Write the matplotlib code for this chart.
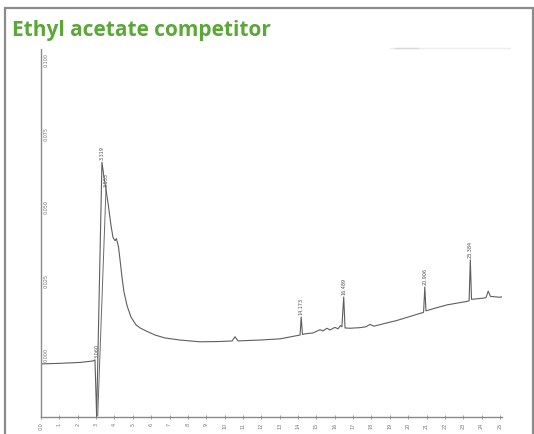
import matplotlib
matplotlib.use("Agg")
import matplotlib.pyplot as plt
import matplotlib.patches as mpatches

# ── chromatogram trace (time in min, signal in AU) ───────────────────────────
trace_t = [0.0, 1.03, 2.12, 2.83, 2.94, 3.03, 3.32, 3.43, 3.54, 3.68, 3.81,
           3.92, 4.03, 4.11, 4.22, 4.30, 4.41, 4.52, 4.69, 4.90, 5.18, 5.40,
           5.72, 6.21, 6.76, 7.57, 8.66, 9.75, 10.41, 10.57, 10.73, 11.93,
           13.02, 14.11, 14.173, 14.24, 14.38, 14.81, 15.20, 15.36, 15.58,
           15.74, 16.01, 16.18, 16.31, 16.39, 16.489, 16.56, 16.83, 17.37,
           17.70, 17.92, 18.14, 18.83, 19.37, 20.26, 20.84, 20.906, 20.97,
           21.35, 22.10, 23.19, 23.32, 23.384, 23.45, 24.09, 24.24, 24.36,
           24.48, 25.0, 25.11]
trace_v = [-0.0034, -0.0032, -0.0029, -0.0024, -0.0020, -0.0213, 0.0650,
           0.0600, 0.0559, 0.0498, 0.0437, 0.0395, 0.0384, 0.0391, 0.0363,
           0.0322, 0.0261, 0.0210, 0.0163, 0.0125, 0.0098, 0.0088, 0.0078,
           0.0064, 0.0054, 0.0047, 0.0041, 0.0042, 0.0044, 0.0058, 0.0044,
           0.0047, 0.0051, 0.0064, 0.0125, 0.0066, 0.0068, 0.0071, 0.0082,
           0.0078, 0.0087, 0.0081, 0.0090, 0.0085, 0.0096, 0.0092, 0.0193,
           0.0088, 0.0087, 0.0089, 0.0092, 0.0100, 0.0094, 0.0105, 0.0113,
           0.0130, 0.0141, 0.0227, 0.0146, 0.0153, 0.0166, 0.0178, 0.0180,
           0.0319, 0.0185, 0.0189, 0.0191, 0.0213, 0.0195, 0.0192, 0.0194]

# second stroke at the injection dip
stroke_t = [3.09, 3.54]
stroke_v = [-0.0210, 0.0559]

# labelled peaks
peak_t = [3.03, 3.32, 3.54, 14.173, 16.489, 20.906, 23.384]
peak_v = [-0.0020, 0.0650, 0.0559, 0.0125, 0.0193, 0.0227, 0.0319]
peak_labels = ["3.060", "3.319", "3.553", "14.173", "16.489", "20.906", "23.384"]

x_ticks = list(range(0, 26))
x_tick_labels = ["0.0"] + [str(i) for i in range(1, 26)]
y_ticks = [0.0, 0.025, 0.050, 0.075, 0.100]
y_tick_labels = ["0.000", "0.025", "0.050", "0.075", "0.100"]

W, H = 534, 435
fig = plt.figure(figsize=(W / 100, H / 100), dpi=100)
fig.patch.set_facecolor("white")

# outer frame
fig.patches.append(mpatches.Rectangle((4.5 / W, -0.05), (533 - 4.5) / W, 1.05 - 9 / H,
                                      transform=fig.transFigure, fill=False,
                                      edgecolor="#8c8c8c", linewidth=1.6))

fig.text(12.5 / W, 1 - 36 / H, "Ethyl acetate competitor", color="#5aa838",
         fontsize=15, fontweight="bold", family=["Open Sans", "DejaVu Sans"],
         va="baseline", ha="left")

# faint scanner line
fig.add_artist(plt.Line2D([390 / W, 510 / W], [1 - 49 / H, 1 - 49 / H],
                          color="#ececec", linewidth=1))
fig.add_artist(plt.Line2D([395 / W, 418 / W], [1 - 49 / H, 1 - 49 / H],
                          color="#d8d8d8", linewidth=1))

left, right = 41 / W, 501.8 / W
bottom, top = 1 - 418 / H, 1 - 50 / H
ax = fig.add_axes([left, bottom, right - left, top - bottom])
ax.set_xlim(0, 25.1)
ax.set_ylim(-0.0214, 0.1034)

ax.plot(trace_t, trace_v, color="#5e5e5e", linewidth=0.8)
ax.plot(stroke_t, stroke_v, color="#6a6a6a", linewidth=0.7)

for t, v, lab in zip(peak_t, peak_v, peak_labels):
    ax.text(t, v + 0.001, lab, rotation=90, ha="center", va="bottom",
            fontsize=3.5, color="#555555")

for s in ["top", "right"]:
    ax.spines[s].set_visible(False)
for s in ["left", "bottom"]:
    ax.spines[s].set_color("#8a8a8a")
    ax.spines[s].set_linewidth(1.0)

ax.set_xticks(x_ticks)
ax.set_xticklabels(x_tick_labels, rotation=90, fontsize=3.5, color="#777777")
ax.tick_params(axis="x", direction="inout", length=2.5, width=0.6,
               colors="#8a8a8a", labelcolor="#777777", pad=2)

ax.set_yticks([])
for v, lab in zip(y_ticks, y_tick_labels):
    ax.text(0.006, v, lab, transform=ax.get_yaxis_transform(), rotation=90,
            ha="left", va="center", fontsize=3.5, color="#777777")

fig.savefig("out.png", dpi=100, facecolor=fig.get_facecolor())
